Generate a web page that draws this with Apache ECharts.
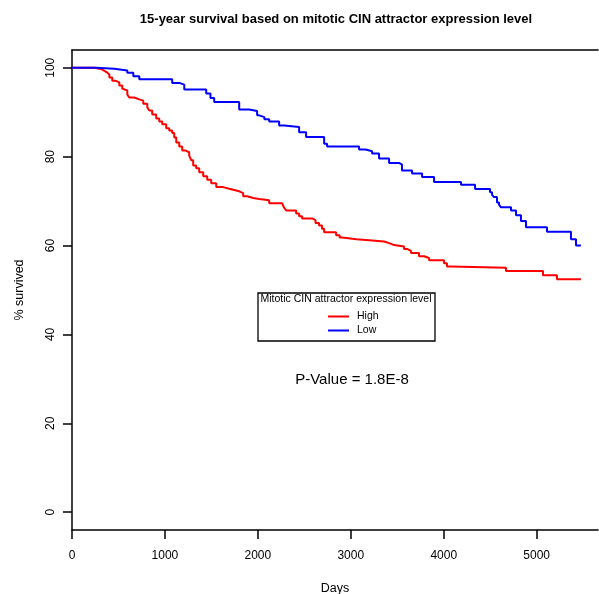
<!DOCTYPE html>
<html>
<head>
<meta charset="utf-8">
<script src="https://cdn.jsdelivr.net/npm/echarts@6/dist/echarts.min.js"></script>
<style>
  html, body { margin: 0; padding: 0; background: #fff; }
  #main { width: 599px; height: 594px; }
</style>
</head>
<body>
<div id="main"></div>
<script>
// survival curves: [day, % survived], drop happens at the day
var highCurve = [
  [0, 100], [240, 99.8], [294, 99.6], [326, 99.2], [358, 98.9], [380, 98.5],
  [402, 97.8], [433, 97.1], [466, 96.7], [509, 96.0], [541, 95.3], [562, 94.9],
  [595, 94.0], [616, 93.3], [670, 92.9], [724, 92.6], [767, 91.9], [810, 91.1],
  [831, 90.4], [863, 89.5], [906, 88.6], [939, 87.9], [971, 87.3], [1014, 86.4],
  [1046, 85.9], [1078, 85.3], [1100, 84.3], [1122, 83.2], [1154, 82.3], [1186, 81.4],
  [1218, 81.0], [1261, 80.3], [1282, 79.2], [1304, 78.0], [1336, 77.4], [1369, 76.5],
  [1412, 75.6], [1455, 74.8], [1498, 74.0], [1552, 73.2], [1616, 72.8], [1692, 72.5],
  [1746, 72.2], [1799, 71.8], [1842, 71.1], [1885, 70.7], [1949, 70.5], [2014, 70.2],
  [2122, 69.5], [2262, 69.1], [2283, 68.5], [2304, 67.9], [2412, 67.2], [2444, 66.6],
  [2476, 66.1], [2584, 65.7], [2620, 65.1], [2659, 64.5], [2690, 63.8], [2713, 63.0],
  [2842, 62.3], [2880, 61.8], [2906, 61.4], [3060, 61.2], [3197, 60.9], [3358, 60.5],
  [3420, 60.1], [3466, 59.8], [3573, 59.2], [3610, 58.8], [3648, 58.3], [3734, 57.6],
  [3788, 57.2], [3842, 56.7], [4003, 56.0], [4035, 55.3], [4078, 55.0], [4670, 54.3],
  [5068, 53.3], [5218, 52.4], [5476, 52.4]
];
var lowCurve = [
  [0, 100], [261, 99.8], [455, 99.4], [595, 98.9], [660, 98.1], [724, 97.4],
  [1078, 96.6], [1154, 96.2], [1208, 95.1], [1444, 94.2], [1490, 93.2], [1530, 92.3],
  [1799, 90.6], [1906, 90.3], [1992, 89.3], [2014, 88.9], [2070, 88.4], [2122, 87.9],
  [2229, 87.0], [2283, 86.7], [2444, 85.5], [2519, 84.4], [2713, 82.9], [2745, 82.3],
  [3089, 81.6], [3160, 81.2], [3229, 80.7], [3304, 79.6], [3412, 78.6], [3519, 78.2],
  [3551, 76.9], [3659, 76.2], [3767, 75.4], [3896, 74.3], [4186, 73.7], [4337, 72.7],
  [4498, 72.0], [4520, 71.4], [4541, 70.9], [4573, 69.7], [4595, 69.2], [4616, 68.6],
  [4724, 67.9], [4778, 66.8], [4831, 65.5], [4885, 64.1], [5111, 63.1], [5369, 61.4],
  [5423, 60.0], [5476, 60.0]
];
var dayTicks = [0, 1000, 2000, 3000, 4000, 5000];
var pctTicks = [0, 20, 40, 60, 80, 100];
var seriesNames = ['High', 'Low'];

var font = 'Liberation Sans, Arial, Helvetica, sans-serif';
var chart = echarts.init(document.getElementById('main'));

chart.setOption({
  backgroundColor: '#ffffff',
  animation: false,
  title: {
    text: '15-year survival based on mitotic CIN attractor expression level',
    left: 331, top: 8, textAlign: 'center',
    textStyle: { fontFamily: font, fontSize: 13, fontWeight: 'bold', color: '#000' }
  },
  grid: { left: 72, right: 1, top: 50, bottom: 64, outerBoundsMode: 'none', containLabel: false },
  legend: {
    data: seriesNames,
    orient: 'vertical',
    left: 323, top: 306,
    icon: 'rect',
    itemWidth: 21, itemHeight: 2, itemGap: 3,
    textStyle: { fontFamily: font, fontSize: 10.5, color: '#000', padding: [0, 0, 0, 3] }
  },
  graphic: [
    { type: 'rect', shape: { x: 258, y: 293, width: 177, height: 48 },
      style: { fill: '#fff', stroke: '#000', lineWidth: 1.3 }, z: 0 },
    { type: 'text', x: 346, y: 299,
      style: { text: 'Mitotic CIN attractor expression level', fontFamily: font, fontSize: 10.5,
               fill: '#000', align: 'center', verticalAlign: 'middle' } },
    { type: 'text', x: 352, y: 380,
      style: { text: 'P-Value = 1.8E-8', fontFamily: font, fontSize: 15,
               fill: '#000', align: 'center', verticalAlign: 'middle' } }
  ],
  xAxis: [{
    type: 'value', min: 0, max: 5660,
    name: 'Days', nameLocation: 'middle', nameGap: 52,
    nameTextStyle: { fontFamily: font, fontSize: 12.5, color: '#000' },
    axisLine: { show: true, onZero: false, lineStyle: { color: '#000', width: 1.5 } },
    axisTick: { show: true, length: 9, customValues: dayTicks, lineStyle: { color: '#000', width: 1.5 } },
    axisLabel: { customValues: dayTicks, margin: 20, fontFamily: font, fontSize: 12, color: '#000',
                 formatter: function (v) { return String(v); } },
    splitLine: { show: false }
  }, {
    type: 'value', position: 'top', min: 0, max: 5660,
    axisLine: { show: true, onZero: false, lineStyle: { color: '#000', width: 1.5 } },
    axisTick: { show: false }, axisLabel: { show: false }, splitLine: { show: false }
  }],
  yAxis: {
    type: 'value', min: -4, max: 104,
    name: '% survived', nameLocation: 'middle', nameGap: 46,
    nameTextStyle: { fontFamily: font, fontSize: 12.5, color: '#000' },
    axisLine: { show: true, onZero: false, lineStyle: { color: '#000', width: 1.5 } },
    axisTick: { show: true, length: 9, customValues: pctTicks, lineStyle: { color: '#000', width: 1.5 } },
    axisLabel: { customValues: pctTicks, rotate: 90, margin: 15, fontFamily: font, fontSize: 12, color: '#000' },
    splitLine: { show: false }
  },
  series: [{
    name: seriesNames[0], type: 'line', step: 'end', showSymbol: false,
    data: highCurve, color: '#ff0000',
    lineStyle: { color: '#ff0000', width: 2 }
  }, {
    name: seriesNames[1], type: 'line', step: 'end', showSymbol: false,
    data: lowCurve, color: '#0000ff',
    lineStyle: { color: '#0000ff', width: 2 }
  }]
});
</script>
</body>
</html>
